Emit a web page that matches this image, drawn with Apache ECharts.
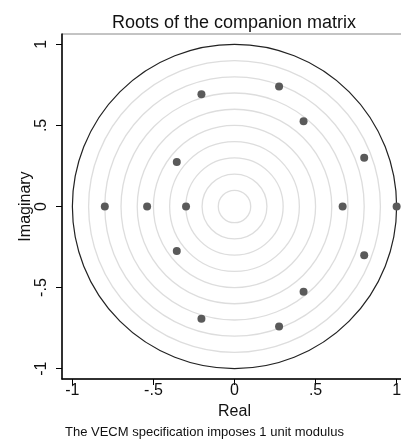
<!DOCTYPE html>
<html>
<head>
<meta charset="utf-8">
<script src="https://cdn.jsdelivr.net/npm/echarts@6/dist/echarts.min.js"></script>
<style>
  html, body { margin: 0; padding: 0; background: #fff; }
  #chart { width: 401px; height: 441px; }
</style>
</head>
<body>
<div id="chart"></div>
<script>
// eigenvalues of the companion matrix (real, imaginary)
const realParts = [-0.204, -0.204, 0.275, 0.275, 0.426, 0.426, -0.356, -0.356, 0.800, 0.800, -0.800, -0.539, -0.299, 0.667, 1.000];
const imagParts = [0.693, -0.693, 0.740, -0.740, 0.526, -0.526, 0.275, -0.275, 0.300, -0.300, 0, 0, 0, 0, 0];
// reference circles (radius)
const circleRadii = [0.1, 0.2, 0.3, 0.4, 0.5, 0.6, 0.7, 0.8, 0.9, 1];
const tickValues = [-1, -0.5, 0, 0.5, 1];
const tickText = ['-1', '-.5', '0', '.5', '1'];

const font = 'Liberation Sans, Arial, sans-serif';
const chart = echarts.init(document.getElementById('chart'));

function fmt(v) {
    const i = tickValues.indexOf(Math.round(v * 100) / 100);
    return i >= 0 ? tickText[i] : '';
}

const points = realParts.map((x, i) => [x, imagParts[i]]);

const option = {
    animation: false,
    backgroundColor: '#fff',
    title: {
        text: 'Roots of the companion matrix',
        left: 229,
        textAlign: 'center',
        top: 9,
        textStyle: { fontFamily: font, fontSize: 18, fontWeight: 'normal', color: '#111' }
    },
    graphic: [{
        type: 'text',
        left: 65,
        top: 426,
        style: { text: 'The VECM specification imposes 1 unit modulus', fontFamily: font, fontSize: 13, fill: '#111' }
    }],
    grid: {
        left: 62, top: 34, width: 345, height: 345,
        outerBoundsMode: 'none',
        containLabel: false,
        show: true, borderColor: '#888', borderWidth: 1, backgroundColor: '#fff'
    },
    xAxis: {
        type: 'value', min: -1.064, max: 1.064,
        name: 'Real', nameLocation: 'middle', nameGap: 25, nameMoveOverlap: false,
        nameTextStyle: { fontFamily: font, fontSize: 16, color: '#111' },
        axisLine: { show: true, onZero: false, lineStyle: { color: '#000', width: 1.5 } },
        axisTick: { show: true, length: 6, customValues: tickValues, lineStyle: { color: '#000' } },
        axisLabel: { customValues: tickValues, formatter: fmt, margin: 4, fontFamily: font, fontSize: 16, color: '#111' },
        splitLine: { show: false }
    },
    yAxis: {
        type: 'value', min: -1.064, max: 1.064,
        name: 'Imaginary', nameLocation: 'middle', nameGap: 28, nameMoveOverlap: false,
        nameTextStyle: { fontFamily: font, fontSize: 16, color: '#111' },
        axisLine: { show: true, onZero: false, lineStyle: { color: '#000', width: 1.5 } },
        axisTick: { show: true, length: 6, customValues: tickValues, lineStyle: { color: '#000' } },
        axisLabel: { customValues: tickValues, formatter: fmt, rotate: 90, margin: 12, fontFamily: font, fontSize: 16, color: '#111' },
        splitLine: { show: false }
    },
    series: [
        {
            type: 'custom',
            data: circleRadii.map(r => [r]),
            encode: { x: 0 },
            silent: true,
            z: 1,
            renderItem: function (params, api) {
                const r = api.value(0);
                const c = api.coord([0, 0]);
                const rp = api.size([r, 0])[0];
                return {
                    type: 'circle',
                    shape: { cx: c[0], cy: c[1], r: rp },
                    style: { fill: null, stroke: r === 1 ? '#222' : '#ddd', lineWidth: r === 1 ? 1.2 : 1.3 }
                };
            }
        },
        {
            type: 'scatter',
            data: points,
            symbolSize: 8,
            z: 3,
            itemStyle: { color: '#5a5a5a', opacity: 1 }
        }
    ]
};
chart.setOption(option);
</script>
</body>
</html>
